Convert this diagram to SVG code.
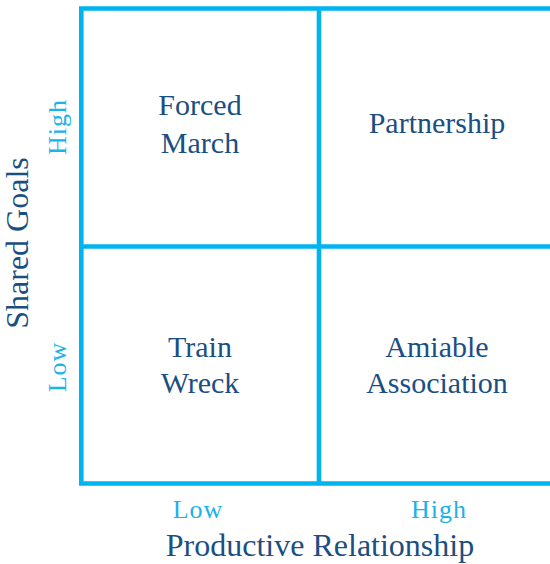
<svg xmlns="http://www.w3.org/2000/svg" width="550" height="564" viewBox="0 0 550 564">
  <style>
    .grid { fill: none; stroke: #00B5EF; stroke-width: 4.6; }
    .cell { font-family: "Liberation Serif", "Times New Roman", serif; font-size: 30px; fill: #1B4F82; text-anchor: middle; }
    .axis { font-family: "Liberation Serif", "Times New Roman", serif; font-size: 32px; fill: #1B4F82; text-anchor: middle; }
    .tick { font-family: "Liberation Serif", "Times New Roman", serif; font-size: 26px; letter-spacing: 1px; fill: #1AB3EA; text-anchor: middle; }
  </style>
  <rect width="550" height="564" fill="#ffffff"/>
  <g id="connectors">
    <path class="grid" d="M 552 8.5 H 81.3 V 483.5 H 552"/>
    <path class="grid" d="M 319 8.5 V 483.5"/>
    <path class="grid" d="M 81.3 246.5 H 552"/>
  </g>
  <g id="forced-march">
    <text class="cell" x="200" y="115">Forced</text>
    <text class="cell" x="200" y="153">March</text>
  </g>
  <g id="partnership">
    <text class="cell" x="437" y="133">Partnership</text>
  </g>
  <g id="train-wreck">
    <text class="cell" x="200" y="357">Train</text>
    <text class="cell" x="200" y="393">Wreck</text>
  </g>
  <g id="amiable-association">
    <text class="cell" x="437" y="357">Amiable</text>
    <text class="cell" x="437" y="393">Association</text>
  </g>
  <g id="x-axis">
    <text class="tick" x="198" y="518">Low</text>
    <text class="tick" x="439" y="518">High</text>
    <text class="axis" x="320" y="556">Productive Relationship</text>
  </g>
  <g id="y-axis">
    <text class="axis" transform="translate(28 243) rotate(-90)">Shared Goals</text>
    <text class="tick" transform="translate(66 127) rotate(-90)">High</text>
    <text class="tick" transform="translate(66 367) rotate(-90)">Low</text>
  </g>
</svg>
